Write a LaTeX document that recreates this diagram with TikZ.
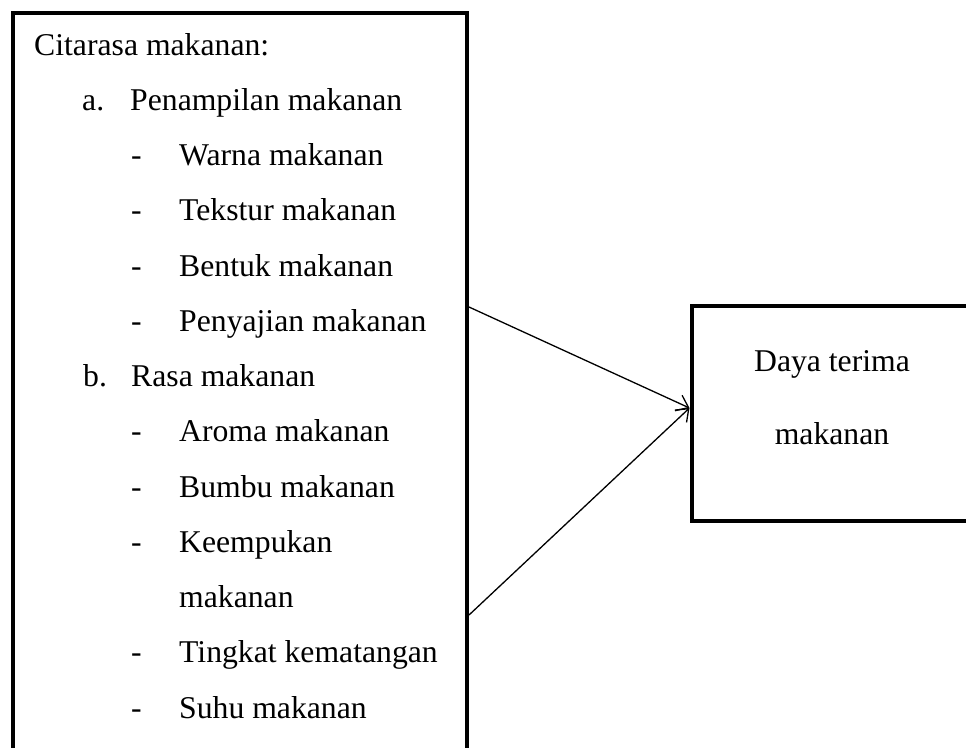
\documentclass[tikz,border=0pt]{standalone}
\usepackage{fontspec}
\setmainfont{Liberation Serif}
\usetikzlibrary{arrows.meta}
\begin{document}
\begin{tikzpicture}[x=1pt,y=-1pt,
  txt/.style={anchor=base west,inner sep=0pt,font=\fontsize{31.7}{38}\selectfont},
  txtc/.style={anchor=base,inner sep=0pt,font=\fontsize{31.7}{38}\selectfont},
  kotak/.style={draw,line width=4pt,inner sep=0pt},
  panah/.style={-{Straight Barb[length=11pt,width=17pt,line width=1.3pt]},line width=1.3pt}]
\useasboundingbox (0,0) rectangle (966,747);
\clip (0,0) rectangle (966,747);
% kotak kiri dan kanan
\node[kotak,minimum width=454pt,minimum height=767pt] (citarasa) at (240,396.5) {};
\node[kotak,minimum width=320pt,minimum height=214.5pt] (daya) at (851.5,413.25) {};
% isi kotak kiri
\node[txt] (judul) at (34,55) {Citarasa makanan:};
\node[txt] (ha) at (82,110.25) {a.};
\node[txt] (penampilan) at (130,110.25) {Penampilan makanan};
\node[txt] (warna) at (179,165.5) {Warna makanan};
\node[txt] (tekstur) at (179,220.75) {Tekstur makanan};
\node[txt] (bentuk) at (179,276) {Bentuk makanan};
\node[txt] (penyajian) at (179,331.25) {Penyajian makanan};
\node[txt] (hb) at (83,386.5) {b.};
\node[txt] (rasa) at (131,386.5) {Rasa makanan};
\node[txt] (aroma) at (179,441.75) {Aroma makanan};
\node[txt] (bumbu) at (179,497) {Bumbu makanan};
\node[txt] (keempukan) at (179,552.25) {Keempukan};
\node[txt] (keempukan2) at (179,607.5) {makanan};
\node[txt] (tingkat) at (179,662.75) {Tingkat kematangan};
\node[txt] (suhu) at (179,718) {Suhu makanan};
\foreach \i in {2,3,4,5,7,8,9,11,12}
  \node[txt] (strip\i) at (131,55+\i*55.25) {-};
% isi kotak kanan
\node[txtc] (daya1) at (832,371) {Daya terima};
\node[txtc] (daya2) at (832,444) {makanan};
% panah
\coordinate (s1) at (citarasa.east |- 0,307);
\coordinate (s2) at (citarasa.east |- 0,615);
\coordinate (ujung) at (daya.west |- 0,408);
\draw[panah] (s1) -- (ujung);
\draw[panah] (s2) -- (ujung);
\end{tikzpicture}
\end{document}
